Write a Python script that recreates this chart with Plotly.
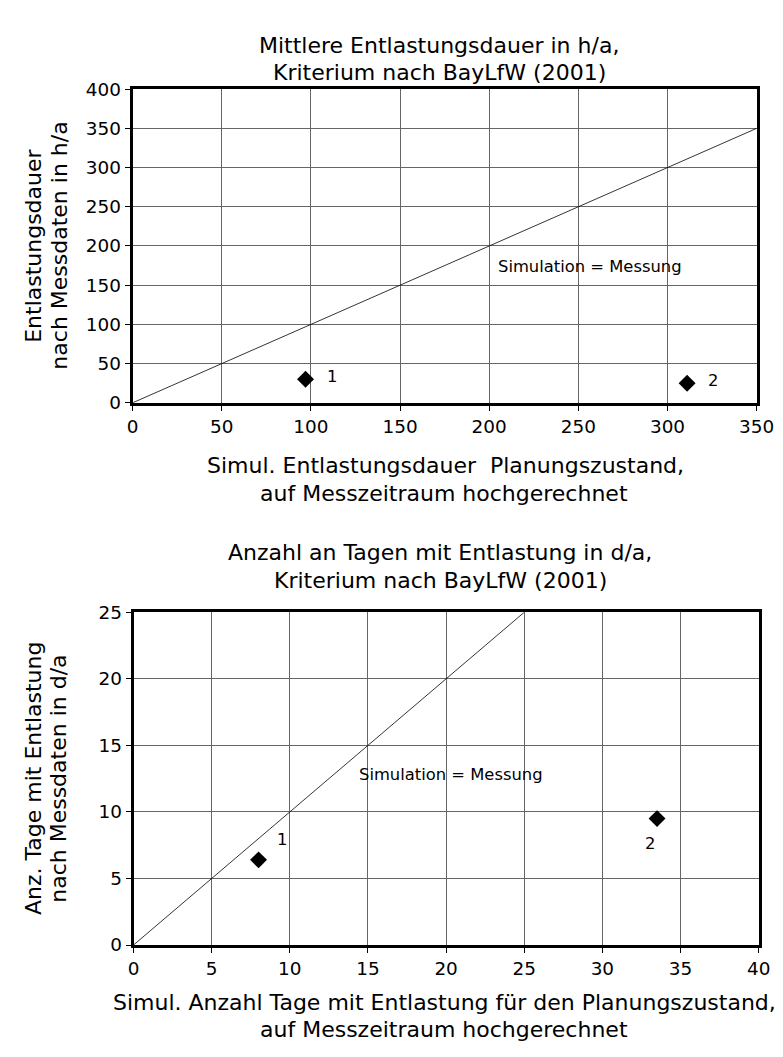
import plotly.graph_objects as go

# top chart: mean overflow duration (h/a)
dauer_sim = [97, 311]
dauer_mess = [30, 25]
dauer_labels = ["1", "2"]
dauer_diag = [0, 350]

# bottom chart: number of overflow days (d/a)
tage_sim = [8, 33.5]
tage_mess = [6.4, 9.5]
tage_labels = ["1", "2"]
tage_diag = [0, 25]

FONT = "DejaVu Sans"
W, H = 783, 1057
# the screenshot comes out slightly scaled/shifted, compensate
SX, OX = 0.977, 10.5
SY, OY = 0.978, 19.0


def px_x(p):
    return (p - OX) / SX / W


def px_y(p):
    return 1 - (p - OY) / SY / H


def fs(s):
    return s / SX


fig = go.Figure()

# diagonal lines
fig.add_trace(go.Scatter(x=dauer_diag, y=dauer_diag, mode="lines",
                         line=dict(color="black", width=0.8),
                         xaxis="x", yaxis="y", hoverinfo="skip"))
fig.add_trace(go.Scatter(x=tage_diag, y=tage_diag, mode="lines",
                         line=dict(color="black", width=0.8),
                         xaxis="x2", yaxis="y2", hoverinfo="skip"))

# points
fig.add_trace(go.Scatter(x=dauer_sim, y=dauer_mess, mode="markers",
                         marker=dict(symbol="diamond", size=13, color="black"),
                         xaxis="x", yaxis="y"))
fig.add_trace(go.Scatter(x=tage_sim, y=tage_mess, mode="markers",
                         marker=dict(symbol="diamond", size=13, color="black"),
                         xaxis="x2", yaxis="y2"))

axis_common = dict(
    showline=True, mirror=True, linecolor="black", linewidth=3,
    showgrid=True, gridcolor="#666", gridwidth=1,
    ticks="outside", ticklen=5, tickcolor="black",
    tickfont=dict(family=FONT, size=fs(18), color="black"),
    zeroline=False,
)

fig.update_layout(
    width=W, height=H,
    margin=dict(l=0, r=0, t=0, b=0),
    paper_bgcolor="white", plot_bgcolor="white",
    showlegend=False,
    xaxis=dict(domain=[px_x(130), px_x(759)], range=[0, 350], dtick=50,
               anchor="y", **axis_common),
    yaxis=dict(domain=[px_y(402), px_y(89)], range=[0, 400], dtick=50,
               anchor="x", **axis_common),
    xaxis2=dict(domain=[px_x(131), px_x(761)], range=[0, 40], dtick=5,
                anchor="y2", **axis_common),
    yaxis2=dict(domain=[px_y(943), px_y(611)], range=[0, 25], dtick=5,
                anchor="x2", **axis_common),
)

tfont = dict(family=FONT, size=fs(21.5), color="black")
lfont = dict(family=FONT, size=fs(16), color="black")

lines = [
    # titles
    (439, 45, "Mittlere Entlastungsdauer in h/a,"),
    (439, 72, "Kriterium nach BayLfW (2001)"),
    (440, 551, "Anzahl an Tagen mit Entlastung in d/a,"),
    (440, 579, "Kriterium nach BayLfW (2001)"),
    # x-axis titles
    (445, 465, "Simul. Entlastungsdauer  Planungszustand,"),
    (444, 492, "auf Messzeitraum hochgerechnet"),
    (444, 1000, "Simul. Anzahl Tage mit Entlastung für den Planungszustand,"),
    (444, 1027, "auf Messzeitraum hochgerechnet"),
]
for x, y, txt in lines:
    fig.add_annotation(xref="paper", yref="paper", x=px_x(x), y=px_y(y), text=txt,
                       showarrow=False, font=tfont, xanchor="center", yanchor="middle")

# y-axis titles
ylines = [
    (30, 245, "Entlastungsdauer"),
    (56, 245, "nach Messdaten in h/a"),
    (30, 777, "Anz. Tage mit Entlastung"),
    (56, 777, "nach Messdaten in d/a"),
]
for x, y, txt in ylines:
    fig.add_annotation(xref="paper", yref="paper", x=px_x(x), y=px_y(y), text=txt,
                       textangle=-90, showarrow=False, font=tfont,
                       xanchor="center", yanchor="middle")

# in-plot labels
fig.add_annotation(xref="x", yref="y", x=204, y=174, text="Simulation = Messung",
                   showarrow=False, font=lfont, xanchor="left", yanchor="middle")
fig.add_annotation(xref="x2", yref="y2", x=14.3, y=12.8, text="Simulation = Messung",
                   showarrow=False, font=lfont, xanchor="left", yanchor="middle")

for xs, ys, lab in zip(dauer_sim, dauer_mess, dauer_labels):
    fig.add_annotation(xref="x", yref="y", x=xs, y=ys, text=lab, showarrow=False,
                       font=lfont, xshift=26, yshift=3)

fig.add_annotation(xref="x2", yref="y2", x=tage_sim[0], y=tage_mess[0], text=tage_labels[0],
                   showarrow=False, font=lfont, xshift=23, yshift=20)
fig.add_annotation(xref="x2", yref="y2", x=tage_sim[1], y=tage_mess[1], text=tage_labels[1],
                   showarrow=False, font=lfont, xshift=-7, yshift=-25)

fig.write_html("out.html")
